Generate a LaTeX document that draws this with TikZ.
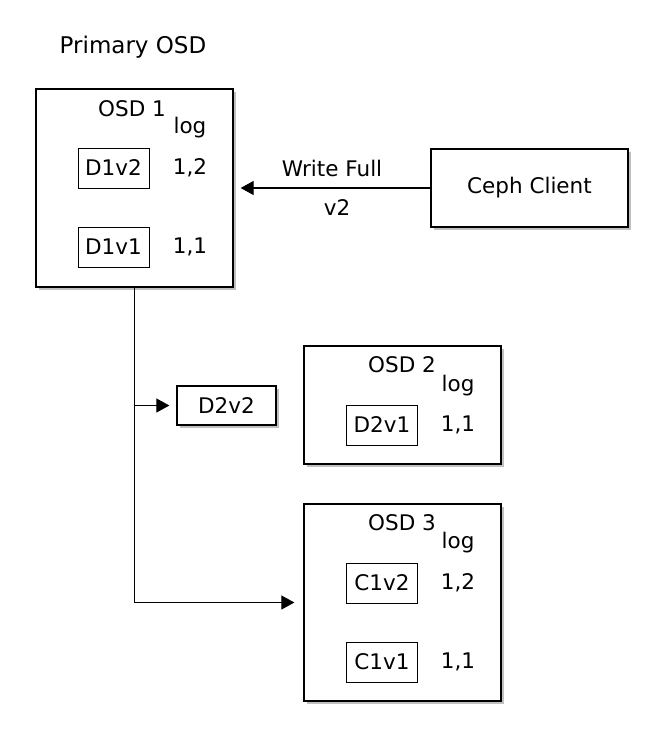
\documentclass[tikz,border=0pt]{standalone}
\usepackage{fontspec}
\setmainfont{DejaVu Sans}
\usetikzlibrary{positioning}
\usetikzlibrary{arrows.meta}
\usetikzlibrary{shadows}
\tikzset{
    every node/.style={ % Same text size everywhere
        font=\fontsize{21.5}{25}\selectfont
    },
    shade box/.style={ % Soft grey shadow under the big boxes
        drop shadow={shadow xshift=3pt, shadow yshift=-3pt, fill=black!45, opacity=0.55}
    },
    osd/.style={ % Boxes for the OSDs
        draw, line width=1.3pt, fill=white, shade box,
        minimum width=197pt, minimum height=198pt
    },
    obj/.style={ % Small object boxes inside an OSD
        draw, line width=1pt, fill=white,
        minimum width=71pt, minimum height=40pt, inner sep=0pt
    },
    flow/.style={ % Data paths
        draw, line width=1.2pt,
        -{Triangle[length=13pt,width=14pt]}
    }
}

\begin{document}
\begin{tikzpicture}[x=1pt, y=-1pt]
    \useasboundingbox (0,0) rectangle (663,750);

    \node (primary) at (133,47) {\fontsize{23}{27}\selectfont Primary OSD};

    % Primary OSD
    \node[osd] (osd1) at (134.5,188) {};
    \node (osd1name) at (132,109) {OSD 1};
    \node (log1) at (190,128) {log};
    \node[obj] (d1v2) at (113.5,168) {D1v2};
    \node (e12) at (190,168) {1,2};
    \node[obj] (d1v1) at (113.5,247) {D1v1};
    \node (e11) at (190,247) {1,1};

    % Client
    \node[osd, minimum height=78pt] (client) at (529.5,188) {Ceph Client};

    % OSD 2
    \node[osd, minimum height=118pt] (osd2) at (402.5,405) {};
    \node (osd2name) at (402,365) {OSD 2};
    \node (log2) at (458,386) {log};
    \node[obj] (d2v1) at (382,425) {D2v1};
    \node (e21) at (458,425) {1,1};

    \node[obj, line width=1.3pt, shade box, minimum width=99pt, minimum height=39pt] (d2v2) at (226.5,405.5) {D2v2};

    % OSD 3
    \node[osd, minimum height=197pt] (osd3) at (402.5,602.5) {};
    \node (osd3name) at (402,523) {OSD 3};
    \node (log3) at (458,543) {log};
    \node[obj] (c1v2) at (382,583) {C1v2};
    \node (e32) at (458,583) {1,2};
    \node[obj] (c1v1) at (382,662) {C1v1};
    \node (e31) at (458,662) {1,1};

    \draw[flow, shorten >=7pt] (client) -- (osd1)
        node[midway, yshift=20pt] {Write Full}
        node[midway, xshift=5pt, yshift=-20pt] {v2};
    \draw[flow, shorten >=9pt] (osd1.south) |- (osd3);
    \draw[flow, shorten >=7pt] (osd1.south |- d2v2) -- (d2v2);
\end{tikzpicture}
\end{document}
